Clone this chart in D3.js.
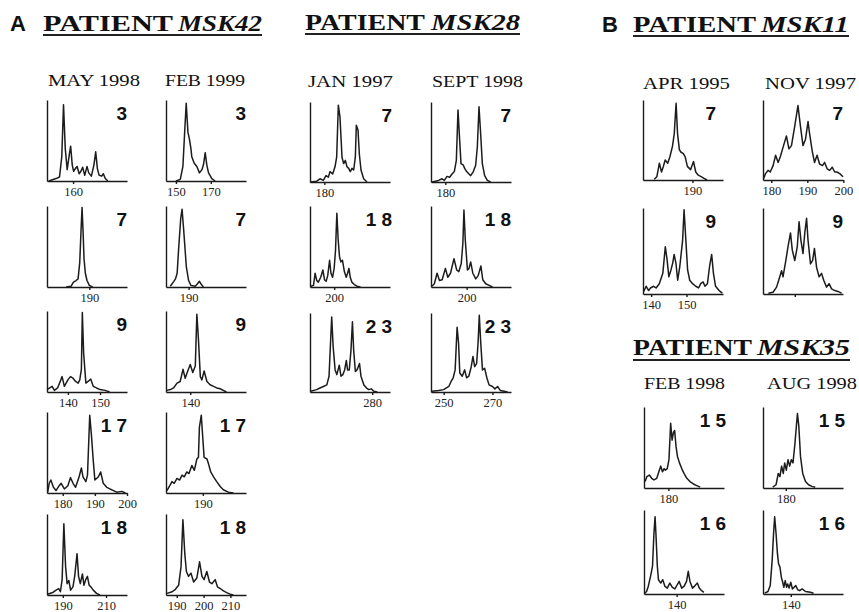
<!DOCTYPE html>
<html lang="en">
<head>
  <meta charset="UTF-8">
  <title>Microsatellite traces by patient</title>
  <script src="https://d3js.org/d3.v7.min.js"></script>
  <style>
    body {
      margin: 0;
      background: #fff;
    }
    svg {
      display: block;
    }
    .axis path, .axis line {
      stroke: #1a1a1a;
      stroke-width: 1.4px;
    }
    .axis text {
      font-family: "Liberation Serif", serif;
      font-size: 12.5px;
      fill: #222;
    }
    .trace {
      fill: none;
      stroke: #1c1c1c;
      stroke-width: 1.5px;
      stroke-linejoin: round;
    }
    .locus {
      font-family: "Liberation Sans", Arial, sans-serif;
      font-weight: bold;
      font-size: 19px;
      fill: #111;
    }
    .date {
      font-family: "Liberation Serif", serif;
      font-size: 17px;
      fill: #111;
    }
    .head {
      font-family: "Liberation Serif", serif;
      font-weight: bold;
      font-size: 23px;
      fill: #111;
    }
    .letter {
      font-family: "Liberation Sans", Arial, sans-serif;
      font-weight: bold;
      font-size: 22px;
      fill: #111;
    }
  </style>
</head>
<body>
  <svg width="859" height="612"></svg>

  <script>
    // ---- data: traces as [size in bp, relative intensity 0-100] ----

    // patient MSK42
    const msk42Dates = ["MAY 1998", "FEB 1999"];
    const msk42Loci = ["3", "7", "9", "17", "18"];
    const msk42May98L3 = [[146,0],[150.2,3],[152.2,5],[153.5,30],[154.5,94],[155.5,40],[156.6,14],[158,35],[158.6,43],[159.5,20],[160.3,12],[161.5,16],[162.3,18],[163.5,9],[164.5,12],[165.5,17],[166.7,7],[168,18],[169,10],[170.5,6],[172,20],[173,36],[174,15],[175,7],[176.5,6],[177.4,9],[178.5,3],[180,0]];
    const msk42Feb99L3 = [[150,0],[152.5,2],[154,18],[155,60],[155.9,96],[156.9,60],[157.8,51],[158.6,40],[159.1,30],[160.5,22],[162,18],[163.5,10],[164.9,14],[165.8,20],[166.8,35],[167.7,20],[168.7,10],[170.6,3],[172.5,0]];
    const msk42May98L7 = [[183,0],[184.5,1],[185.2,6],[186,8],[186.6,10],[187.1,30],[187.5,70],[187.8,98],[188.1,70],[188.4,35],[188.8,17],[189.3,8],[190,2],[191,0]];
    const msk42Feb99L7 = [[184.4,1],[185.5,7],[186,10],[186.5,17],[187,50],[187.6,85],[188,96],[188.5,70],[189.3,25],[190,8],[190.7,2],[192,1],[192.7,4],[193.3,7],[193.9,3],[194.5,0]];
    const msk42May98L9 = [[133.5,3],[135.1,7],[135.8,2],[136.8,5],[138.2,19],[138.9,7],[140,15],[140.8,19],[141.6,17],[142.4,13],[143.2,11],[143.7,15],[144.2,28],[144.5,98],[144.9,48],[145.6,11],[146.3,13],[147.1,16],[147.9,7],[148.9,5],[150,3],[151.6,2],[153,0]];
    const msk42Feb99L9 = [[132.6,2],[133.7,3],[134.7,5],[135.8,11],[136.8,13],[137.7,28],[138.4,17],[139.2,26],[140,34],[140.8,24],[141.6,32],[142.1,96],[142.6,65],[143.2,19],[143.7,15],[144.4,26],[145.3,13],[146.3,9],[147.4,7],[148.4,5],[149.5,4],[150.5,2],[151.5,0]];
    const msk42May98L17 = [[175.3,1],[175.8,12],[176.3,16],[177.1,7],[177.9,3],[178.9,9],[179.5,12],[180.5,5],[181.6,9],[182.4,19],[183.2,12],[184,7],[185.1,20],[185.8,31],[186.3,20],[187.2,14],[187.7,22],[188.4,96],[188.9,73],[189.5,40],[190,16],[191.1,20],[191.8,26],[192.6,12],[193.7,7],[194.7,5],[195.8,3],[196.8,1],[198.4,2],[199.5,0]];
    const msk42Feb99L17 = [[178.6,3],[179.5,9],[180.2,14],[180.9,12],[181.8,18],[182.6,16],[183.4,22],[184.1,20],[184.9,26],[185.6,24],[186.5,34],[187.3,28],[188.1,42],[188.6,44],[188.9,81],[189.5,96],[190,67],[190.4,44],[191.3,42],[191.8,36],[192.5,26],[193.4,20],[194.4,14],[195.5,8],[196.5,4],[198.1,1],[199.7,0]];
    const msk42May98L18 = [[183,1],[185.3,3],[186.9,6],[188.1,8],[188.9,4],[189.7,19],[190.5,88],[191.3,35],[192,14],[192.8,18],[193.6,6],[194.7,10],[195.5,23],[196.6,51],[197.3,23],[198.1,14],[199.1,26],[199.8,12],[200.6,19],[201.4,23],[202.2,12],[203,10],[204.1,6],[205.6,2],[207.2,0]];
    const msk42Feb99L18 = [[186.4,2],[188.3,4],[189.5,7],[190.7,12],[191.6,35],[192.3,93],[193,51],[193.6,29],[194.4,23],[195.3,27],[196.3,16],[197.5,21],[198.5,41],[199.4,23],[200.2,19],[201.2,29],[202.2,16],[203.1,14],[204.3,19],[205.2,10],[206.2,8],[207.4,5],[208.6,3],[209.9,1],[211.1,0]];
    const msk42Domains = [[[145,191],[144.3,190.2]], [[177.2,201.4],[183.1,207.5]], [[133.5,158.4],[132.3,157.7]], [[175.1,200],[178.3,203.7]], [[182.7,219.7],[186,215.8]]];
    const msk42Ticks = [[[160],[150,170]], [[190],[190]], [[140,150],[140]], [[180,190,200],[190]], [[190,210],[190,200,210]]];

    // patient MSK28
    const msk28Dates = ["JAN 1997", "SEPT 1998"];
    const msk28Loci = ["7", "18", "23"];
    const msk28Jan97L7 = [[175.7,0],[177.7,1],[178.7,4],[179.7,2],[180.5,8],[181.2,6],[181.7,13],[182.5,10],[183.2,19],[183.7,31],[184.2,96],[184.7,81],[185.3,31],[185.8,23],[186.3,27],[186.8,19],[187.3,17],[187.8,13],[188.3,17],[188.8,15],[189.3,31],[189.6,71],[190.1,65],[190.5,35],[191,15],[191.8,4],[192.8,0]];
    const msk28Sep98L7 = [[176,0],[178,2],[179,4],[179.7,2],[180.5,7],[181.3,6],[182,10],[182.7,13],[183.3,27],[183.8,90],[184.3,52],[184.7,23],[185.4,21],[185.8,17],[186.4,13],[187.1,10],[187.6,8],[188.4,13],[189.1,21],[189.6,44],[190.1,94],[190.6,60],[191.1,23],[191.8,8],[192.6,2],[193.6,0]];
    const msk28Jan97L18 = [[191.3,1],[192.3,2],[192.9,17],[193.5,8],[194.1,6],[195,12],[195.8,21],[196.4,9],[197,7],[197.6,14],[198.3,33],[198.8,17],[199.4,12],[200,23],[200.5,45],[201,91],[201.5,58],[202,37],[202.5,31],[203.1,33],[203.8,19],[204.5,12],[205,17],[205.5,23],[206,12],[206.6,6],[207.5,3],[208.5,1],[209.8,0]];
    const msk28Sep98L18 = [[187.1,1],[188,4],[189,17],[189.9,8],[190.9,9],[192.1,23],[193,12],[194,17],[195.3,35],[196.3,21],[197.1,19],[198,29],[198.6,54],[199,95],[199.5,58],[200.3,21],[200.9,23],[201.5,31],[202.3,17],[203.4,10],[204.3,14],[205.3,26],[206,9],[207.1,4],[208.4,2],[209.6,0]];
    const msk28Jan97L23 = [[254.8,1],[257.2,3],[258.6,5],[260,7],[261.4,9],[262.3,20],[262.9,61],[263.4,95],[264,57],[264.8,28],[265.5,22],[266.5,34],[267.2,20],[268,22],[268.7,28],[269.4,40],[269.9,28],[270.6,28],[271.3,53],[271.9,89],[272.4,53],[273.1,26],[273.8,28],[274.8,36],[275.4,20],[276.6,9],[277.7,5],[278.6,3],[279.6,4],[280.7,1],[282.1,0]];
    const msk28Sep98L23 = [[245.2,1],[247.9,2],[250,3],[252.1,7],[253,13],[253.9,18],[254.7,28],[255.5,82],[256.1,62],[256.6,24],[257.6,20],[258.6,28],[259.4,18],[260.3,20],[261.3,32],[262,45],[262.7,32],[263.5,36],[264.1,62],[264.6,97],[265.2,62],[265.9,28],[266.8,30],[267.7,18],[268.6,9],[270,7],[271,4],[272.1,7],[273.2,2],[274.8,1],[276.2,0]];
    const msk28Domains = [[[175.7,199.7],[175.7,199.7]], [[191,220.8],[186.75,216.5]], [[254.5,287.3],[244.8,277.6]]];
    const msk28Ticks = [[[180],[180]], [[200],[200]], [[280],[250,270]]];

    // patient MSK11
    const msk11Dates = ["APR 1995", "NOV 1997"];
    const msk11Loci = ["7", "9"];
    const msk11Apr95L7 = [[179.5,1],[180.2,4],[180.9,21],[181.5,10],[182,17],[182.5,25],[183.2,21],[183.8,29],[184.5,42],[185,58],[185.5,96],[185.9,58],[186.4,38],[186.8,35],[187.5,33],[188,29],[188.6,17],[189.5,13],[190.3,23],[190.9,10],[191.6,6],[192.5,4],[193.2,2],[194,0]];
    const msk11Nov97L7 = [[177.9,2],[178.4,8],[179.1,12],[179.7,10],[180.5,18],[181.2,31],[181.9,22],[182.5,29],[183.4,43],[184.2,55],[184.9,39],[185.6,43],[186.5,67],[187.4,93],[188.1,67],[188.8,43],[189.5,51],[190.2,73],[190.6,59],[191.4,35],[192,22],[192.7,31],[193.4,20],[194.2,18],[194.8,22],[195.5,14],[196.2,12],[196.9,16],[197.6,10],[198.2,10],[199,8],[199.9,4]];
    const msk11Apr95L9 = [[137.9,3],[138.6,9],[139.3,4],[139.8,7],[140.7,9],[141.4,7],[142.3,12],[143.3,24],[144,55],[144.5,40],[145,20],[145.6,28],[146.1,36],[146.5,46],[147,36],[147.5,16],[148.1,32],[148.9,63],[149.3,98],[149.8,63],[150.3,28],[150.9,16],[151.7,12],[152.6,9],[153.4,7],[154,12],[154.7,14],[155.2,9],[155.9,12],[156.5,32],[157.1,46],[157.6,24],[158.2,9],[159.2,4],[160.1,1]];
    const msk11Nov97L9 = [[132.6,1],[133.9,2],[134.9,8],[135.5,16],[136.3,27],[136.7,20],[137.5,39],[138.1,55],[138.8,71],[139.3,51],[140,39],[140.7,55],[141.2,84],[141.7,63],[142.3,47],[142.8,71],[143.3,88],[143.7,63],[144.4,35],[145,39],[145.5,53],[146.1,31],[146.8,20],[147.5,24],[148.1,16],[148.9,8],[149.6,12],[150.3,6],[151.2,4],[152.1,3],[153.1,1]];
    const msk11Domains = [[[176.4,198.4],[177.7,199.9]], [[137.7,160.3],[131.1,153.5]]];
    const msk11Ticks = [[[190],[180,190,200]], [[140,150],[140]]];

    // patient MSK35
    const msk35Dates = ["FEB 1998", "AUG 1998"];
    const msk35Loci = ["15", "16"];
    const msk35Feb98L15 = [[171.8,8],[172.4,14],[173.3,16],[174.1,12],[174.9,10],[175.9,12],[176.8,22],[177.3,27],[177.9,20],[178.5,24],[178.9,22],[179.6,24],[180.2,35],[180.8,80],[181.3,59],[181.8,69],[182.2,71],[182.7,51],[183.2,39],[183.9,31],[184.7,24],[185.5,18],[186.5,12],[187.6,8],[188.8,5],[190,3],[191.2,1]];
    const msk35Aug98L15 = [[175.3,1],[176.5,4],[177.3,18],[177.9,14],[178.5,27],[179.1,18],[179.6,31],[180.2,22],[180.8,35],[181.4,27],[182,35],[182.6,31],[183.3,55],[183.8,76],[184.2,92],[184.7,76],[185.3,39],[186.1,18],[187.1,8],[188.2,4],[189.4,2],[190.6,1]];
    const msk35Feb98L16 = [[128.8,1],[129.4,3],[130,9],[130.8,21],[131.5,33],[132,72],[132.4,92],[132.7,72],[133.2,33],[133.6,17],[134.4,13],[135.1,17],[135.9,9],[136.7,7],[137.6,13],[138.5,8],[139.4,6],[140.2,11],[140.9,15],[141.8,7],[142.6,9],[143.5,15],[144.1,27],[144.7,15],[145.6,7],[146.5,10],[147.3,13],[148,7],[148.8,4],[149.6,2]];
    const msk35Aug98L16 = [[130.6,1],[131.8,3],[132.6,10],[133.3,40],[133.8,72],[134.2,92],[134.7,72],[135.2,48],[135.6,36],[136.1,32],[136.6,20],[137.1,14],[137.5,8],[138,16],[138.5,8],[138.9,12],[139.4,7],[140,14],[140.6,6],[141.2,8],[141.8,10],[142.5,5],[143.2,4],[144.1,6],[145.3,3],[147.1,2],[148.2,1]];
    const msk35Domains = [[[171.4,199.6],[171.8,200.6]], [[128.5,156.7],[130,158.8]]];
    const msk35Ticks = [[[180],[180]], [[140],[140]]];

    // ---- layout ----
    const panelW = 80;
    const groups = [
      { patient: "MSK42", letter: "A", letterX: 10, head: [43, 130, 178, 84], headY: 31, lineY: 35,
        dates: msk42Dates, dateX: [48, 165], dateW: [92, 80], dateY: 86,
        loci: msk42Loci, domains: msk42Domains, ticks: msk42Ticks,
        traces: [[msk42May98L3, msk42Feb99L3], [msk42May98L7, msk42Feb99L7], [msk42May98L9, msk42Feb99L9], [msk42May98L17, msk42Feb99L17], [msk42May98L18, msk42Feb99L18]],
        cols: [47, 166], tops: [100, 206, 311, 412, 514], bottoms: [181, 287, 392, 493, 595], labelDx: [0, 0] },
      { patient: "MSK28", head: [305, 120, 431, 89], headY: 30, lineY: 34,
        dates: msk28Dates, dateX: [308, 432], dateW: [85, 91], dateY: 87,
        loci: msk28Loci, domains: msk28Domains, ticks: msk28Ticks,
        traces: [[msk28Jan97L7, msk28Sep98L7], [msk28Jan97L18, msk28Sep98L18], [msk28Jan97L23, msk28Sep98L23]],
        cols: [310, 431], tops: [102, 206, 313], bottoms: [182, 287, 392], labelDx: [2, 0] },
      { patient: "MSK11", letter: "B", letterX: 602, head: [633, 123, 761, 88], headY: 32, lineY: 36,
        dates: msk11Dates, dateX: [643, 765], dateW: [87, 91], dateY: 89,
        loci: msk11Loci, domains: msk11Domains, ticks: msk11Ticks, hideTickText: [[1, 1]],
        traces: [[msk11Apr95L7, msk11Nov97L7], [msk11Apr95L9, msk11Nov97L9]],
        cols: [643, 763], tops: [100, 208], bottoms: [180, 294], labelDx: [-7, 0] },
      { patient: "MSK35", head: [633, 119, 757, 93], headY: 355, lineY: 360,
        dates: msk35Dates, dateX: [644, 767], dateW: [81, 90], dateY: 389,
        loci: msk35Loci, domains: msk35Domains, ticks: msk35Ticks,
        traces: [[msk35Feb98L15, msk35Aug98L15], [msk35Feb98L16, msk35Aug98L16]],
        cols: [644, 763], tops: [407, 510], bottoms: [488, 594], labelDx: [2, 2] }
    ];

    const svg = d3.select("svg");
    svg.append("rect").attr("width", 859).attr("height", 612).attr("fill", "#fff");

    const line = d3.line();

    groups.forEach(grp => {
      // panel letter and patient heading
      if (grp.letter) {
        svg.append("text").attr("class", "letter")
          .attr("x", grp.letterX).attr("y", grp.headY)
          .text(grp.letter);
      }
      svg.append("text").attr("class", "head")
        .attr("x", grp.head[0]).attr("y", grp.headY)
        .attr("textLength", grp.head[1]).attr("lengthAdjust", "spacingAndGlyphs")
        .text("PATIENT");
      svg.append("text").attr("class", "head")
        .attr("x", grp.head[2]).attr("y", grp.headY)
        .attr("font-style", "italic")
        .attr("textLength", grp.head[3]).attr("lengthAdjust", "spacingAndGlyphs")
        .text(grp.patient);
      svg.append("line")
        .attr("x1", grp.head[0]).attr("x2", grp.head[2] + grp.head[3])
        .attr("y1", grp.lineY).attr("y2", grp.lineY)
        .attr("stroke", "#222").attr("stroke-width", 1.8);

      // sample dates
      grp.dates.forEach((d, c) => {
        svg.append("text").attr("class", "date")
          .attr("x", grp.dateX[c]).attr("y", grp.dateY)
          .attr("textLength", grp.dateW[c]).attr("lengthAdjust", "spacingAndGlyphs")
          .text(d);
      });

      grp.loci.forEach((locus, r) => {
        grp.cols.forEach((x0, c) => {
          const top = grp.tops[r], bottom = grp.bottoms[r];
          const x = d3.scaleLinear().domain(grp.domains[r][c]).range([x0, x0 + panelW]);
          const y = d3.scaleLinear().domain([0, 100]).range([bottom, top]);
          const hide = (grp.hideTickText || []).some(h => h[0] === r && h[1] === c);

          svg.append("g").attr("class", "axis")
            .attr("transform", `translate(0,${bottom})`)
            .call(d3.axisBottom(x).tickValues(grp.ticks[r][c]).tickSize(3).tickSizeOuter(0)
              .tickFormat(v => hide ? "" : v))
            .call(g => g.selectAll("text").attr("font-family", null).attr("font-size", null));

          svg.append("g").attr("class", "axis")
            .attr("transform", `translate(${x0},0)`)
            .call(d3.axisLeft(y).tickValues([]).tickSizeOuter(0));

          svg.append("path").attr("class", "trace")
            .attr("d", line(grp.traces[r][c].map(p => [x(p[0]), y(p[1])])));

          const spacing = locus.length > 1 ? 5 : 0;
          svg.append("text").attr("class", "locus")
            .attr("x", x0 + panelW + grp.labelDx[c] + spacing)
            .attr("y", top + 20)
            .attr("text-anchor", "end")
            .style("letter-spacing", spacing + "px")
            .text(locus);
        });
      });
    });
  </script>
</body>
</html>
